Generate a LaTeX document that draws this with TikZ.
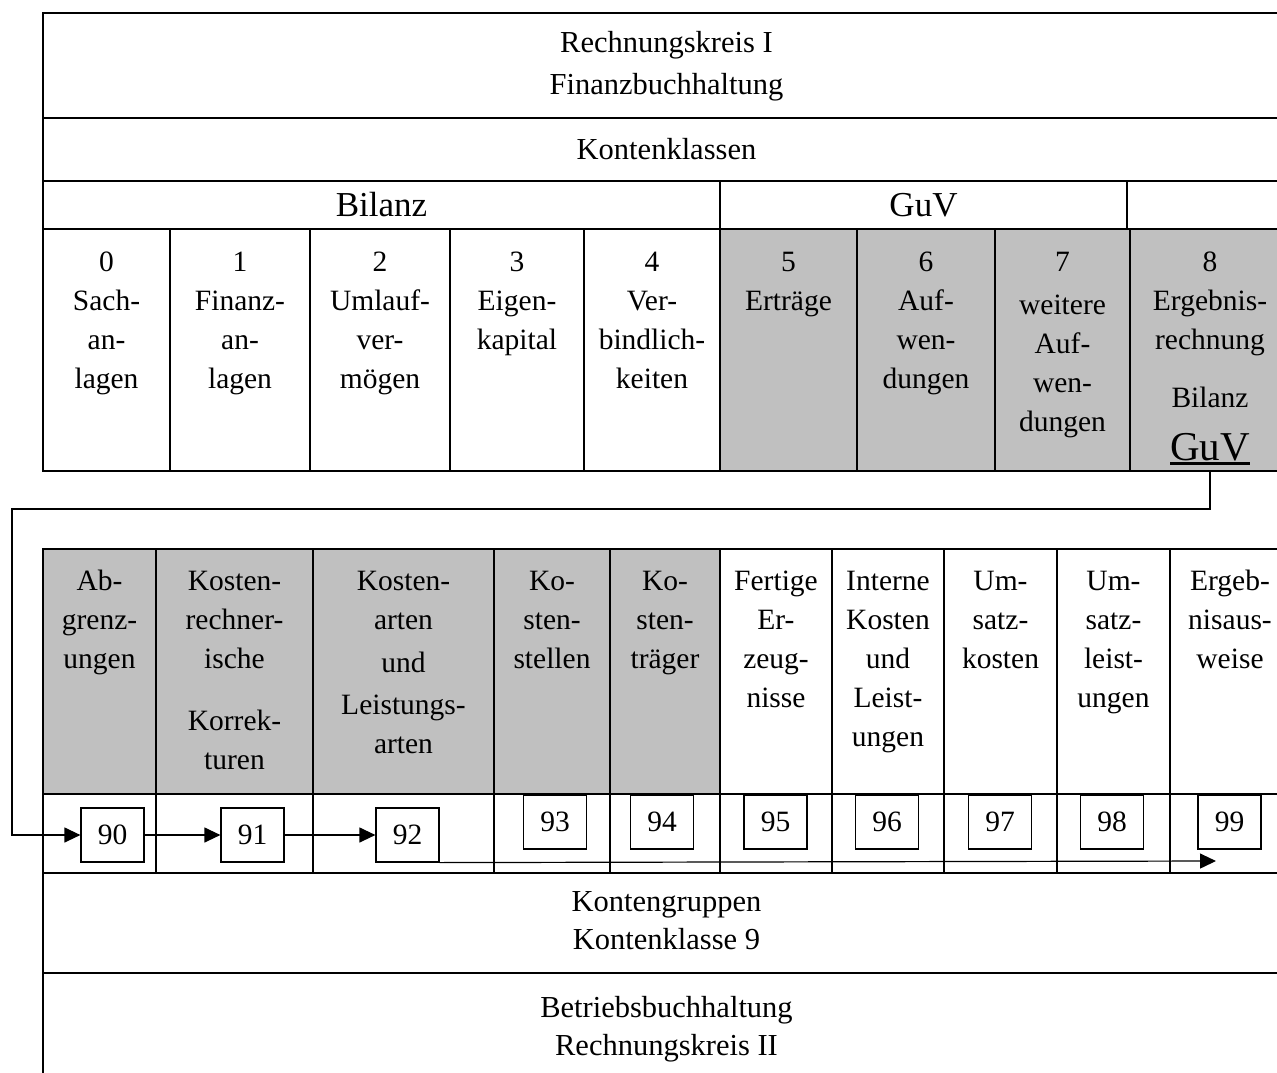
\documentclass[tikz,border=0pt]{standalone}
\usepackage{fontspec}
\setmainfont{Liberation Serif}
\usepackage{tikz}
\usetikzlibrary{arrows.meta,positioning}
\definecolor{zellgrau}{RGB}{192,192,192}
\newcommand{\dickunter}[1]{\setbox0\hbox{#1}\rlap{\rule[-4pt]{\wd0}{2.5pt}}\box0}

\begin{document}
\begin{tikzpicture}[x=1pt,y=-1pt,font=\fontsize{29.5}{39}\selectfont]
  \tikzstyle{zelle}=[rectangle, draw, line width=1.5pt, inner sep=0pt, outer sep=0pt, anchor=north west]
  \tikzstyle{grauzelle}=[zelle, fill=zellgrau]
  \tikzstyle{spalte}=[inner sep=0pt, anchor=north]
  \tikzstyle{konto}=[rectangle, draw, line width=1.2pt, minimum width=63pt, minimum height=54pt, inner sep=0pt]
  \tikzstyle{pfeil}=[-{Triangle[length=16pt,width=15pt]}, line width=1.2pt]
  \useasboundingbox (0,0) rectangle (1277,1073);

  % Rechnungskreis I
  \node[zelle, minimum width=1247pt, minimum height=105pt, font=\fontsize{30.5}{42}\selectfont] (Rechnungskreis I) at (43,13) {\begin{tabular}{c} Rechnungskreis I\\
                                                                                   Finanzbuchhaltung
                                                                 \end{tabular}};
  \node[zelle, minimum width=1247pt, minimum height=63pt, font=\fontsize{30.5}{42}\selectfont] (Kontenklassen) at (43,118) {Kontenklassen};
  \node[zelle, minimum width=677pt, minimum height=48pt, font=\fontsize{35}{42}\selectfont] (Bilanz) at (43,181) {Bilanz};
  \node[zelle, minimum width=407pt, minimum height=48pt, font=\fontsize{35}{42}\selectfont] (GuV) at (720,181) {GuV};
  \node[zelle, minimum width=163pt, minimum height=48pt] (Leer) at (1127,181) {};
  \draw[line width=2.5pt] (Kontenklassen.south west) -- (Kontenklassen.south east);

  \node[zelle, minimum width=127pt, minimum height=242pt] (Klasse 0) at (43,229) {};
  \node[zelle, minimum width=140pt, minimum height=242pt] (Klasse 1) at (170,229) {};
  \node[zelle, minimum width=140pt, minimum height=242pt] (Klasse 2) at (310,229) {};
  \node[zelle, minimum width=134pt, minimum height=242pt] (Klasse 3) at (450,229) {};
  \node[zelle, minimum width=136pt, minimum height=242pt] (Klasse 4) at (584,229) {};
  \node[grauzelle, minimum width=137pt, minimum height=242pt] (Klasse 5) at (720,229) {};
  \node[grauzelle, minimum width=138pt, minimum height=242pt] (Klasse 6) at (857,229) {};
  \node[grauzelle, minimum width=135pt, minimum height=242pt] (Klasse 7) at (995,229) {};
  \node[grauzelle, minimum width=160pt, minimum height=242pt] (Klasse 8) at (1130,229) {};

  \node[spalte] (Text 0) at (106.5,244) {\begin{tabular}{c} 0\\ Sach-\\ an-\\ lagen \end{tabular}};
  \node[spalte] (Text 1) at (240,244) {\begin{tabular}{c} 1\\ Finanz-\\ an-\\ lagen \end{tabular}};
  \node[spalte] (Text 2) at (380,244) {\begin{tabular}{c} 2\\ Umlauf-\\ ver-\\ mögen \end{tabular}};
  \node[spalte] (Text 3) at (517,244) {\begin{tabular}{c} 3\\ Eigen-\\ kapital \end{tabular}};
  \node[spalte] (Text 4) at (652,244) {\begin{tabular}{c} 4\\ Ver-\\ bindlich-\\ keiten \end{tabular}};
  \node[spalte] (Text 5) at (788.5,244) {\begin{tabular}{c} 5\\ Erträge \end{tabular}};
  \node[spalte] (Text 6) at (926,244) {\begin{tabular}{c} 6\\ Auf-\\ wen-\\ dungen \end{tabular}};
  \node[spalte] (Text 7) at (1062.5,244) {\begin{tabular}{c} 7\\[4pt] weitere\\ Auf-\\ wen-\\ dungen \end{tabular}};
  \node[spalte] (Text 8) at (1210,244) {\begin{tabular}{c} 8\\ Ergebnis-\\ rechnung\\[19pt] Bilanz\\[14pt]
                                          {\fontsize{41}{46}\selectfont\dickunter{GuV}} \end{tabular}};

  % Rechnungskreis II
  \node[grauzelle, minimum width=113pt, minimum height=245pt] (Gruppe 90) at (43,549) {};
  \node[grauzelle, minimum width=157pt, minimum height=245pt] (Gruppe 91) at (156,549) {};
  \node[grauzelle, minimum width=181pt, minimum height=245pt] (Gruppe 92) at (313,549) {};
  \node[grauzelle, minimum width=116pt, minimum height=245pt] (Gruppe 93) at (494,549) {};
  \node[grauzelle, minimum width=110pt, minimum height=245pt] (Gruppe 94) at (610,549) {};
  \node[zelle, minimum width=112pt, minimum height=245pt] (Gruppe 95) at (720,549) {};
  \node[zelle, minimum width=112pt, minimum height=245pt] (Gruppe 96) at (832,549) {};
  \node[zelle, minimum width=113pt, minimum height=245pt] (Gruppe 97) at (944,549) {};
  \node[zelle, minimum width=113pt, minimum height=245pt] (Gruppe 98) at (1057,549) {};
  \node[zelle, minimum width=120pt, minimum height=245pt] (Gruppe 99) at (1170,549) {};

  \node[zelle, minimum width=113pt, minimum height=79pt] (Nummer 90) at (43,794) {};
  \node[zelle, minimum width=157pt, minimum height=79pt] (Nummer 91) at (156,794) {};
  \node[zelle, minimum width=181pt, minimum height=79pt] (Nummer 92) at (313,794) {};
  \node[zelle, minimum width=116pt, minimum height=79pt] (Nummer 93) at (494,794) {};
  \node[zelle, minimum width=110pt, minimum height=79pt] (Nummer 94) at (610,794) {};
  \node[zelle, minimum width=112pt, minimum height=79pt] (Nummer 95) at (720,794) {};
  \node[zelle, minimum width=112pt, minimum height=79pt] (Nummer 96) at (832,794) {};
  \node[zelle, minimum width=113pt, minimum height=79pt] (Nummer 97) at (944,794) {};
  \node[zelle, minimum width=113pt, minimum height=79pt] (Nummer 98) at (1057,794) {};
  \node[zelle, minimum width=120pt, minimum height=79pt] (Nummer 99) at (1170,794) {};

  \node[spalte] (Name 90) at (99.5,563) {\begin{tabular}{c} Ab-\\ grenz-\\ ungen \end{tabular}};
  \node[spalte] (Name 91) at (234.5,563) {\begin{tabular}{c} Kosten-\\ rechner-\\ ische\\[23pt] Korrek-\\ turen \end{tabular}};
  \node[spalte] (Name 92) at (403.5,563) {\begin{tabular}{c} Kosten-\\ arten\\[4pt] und\\[3pt] Leistungs-\\ arten \end{tabular}};
  \node[spalte] (Name 93) at (552,563) {\begin{tabular}{c} Ko-\\ sten-\\ stellen \end{tabular}};
  \node[spalte] (Name 94) at (665,563) {\begin{tabular}{c} Ko-\\ sten-\\ träger \end{tabular}};
  \node[spalte] (Name 95) at (776,563) {\begin{tabular}{c} Fertige\\ Er-\\ zeug-\\ nisse \end{tabular}};
  \node[spalte] (Name 96) at (888,563) {\begin{tabular}{c} Interne\\ Kosten\\ und\\ Leist-\\ ungen \end{tabular}};
  \node[spalte] (Name 97) at (1000.5,563) {\begin{tabular}{c} Um-\\ satz-\\ kosten \end{tabular}};
  \node[spalte] (Name 98) at (1113.5,563) {\begin{tabular}{c} Um-\\ satz-\\ leist-\\ ungen \end{tabular}};
  \node[spalte] (Name 99) at (1230,563) {\begin{tabular}{c} Ergeb-\\ nisaus-\\ weise \end{tabular}};

  \node[konto] (Konto 90) at (112.5,835) {90};
  \node[konto] (Konto 91) at (252.5,835) {91};
  \node[konto] (Konto 92) at (407.5,835) {92};
  \node[konto] (Konto 93) at (555,822) {93};
  \node[konto] (Konto 94) at (662,822) {94};
  \node[konto] (Konto 95) at (775.5,822) {95};
  \node[konto] (Konto 96) at (887,822) {96};
  \node[konto] (Konto 97) at (1000,822) {97};
  \node[konto] (Konto 98) at (1112,822) {98};
  \node[konto] (Konto 99) at (1229.5,822) {99};

  \node[zelle, minimum width=1247pt, minimum height=100pt, font=\fontsize{30.5}{38}\selectfont] (Kontengruppen) at (43,873) {\begin{tabular}{c} Kontengruppen\\
                                                                                  Kontenklasse 9
                                                                \end{tabular}};
  \node[zelle, minimum width=1247pt, minimum height=112pt, font=\fontsize{30.5}{38}\selectfont] (Rechnungskreis II) at (43,973) {\begin{tabular}{c} Betriebsbuchhaltung\\
                                                                                     Rechnungskreis II
                                                                   \end{tabular}};

  \coordinate (Knick) at (12,509);
  \coordinate (Ende) at (1216,861);
  \draw [pfeil] (Klasse 8.south) |- (Knick) |- (Konto 90.west);
  \draw [pfeil] (Konto 90) -- (Konto 91);
  \draw [pfeil] (Konto 91) -- (Konto 92);
  \draw [pfeil] (Konto 92.south east) -- (Ende);
\end{tikzpicture}
\end{document}
